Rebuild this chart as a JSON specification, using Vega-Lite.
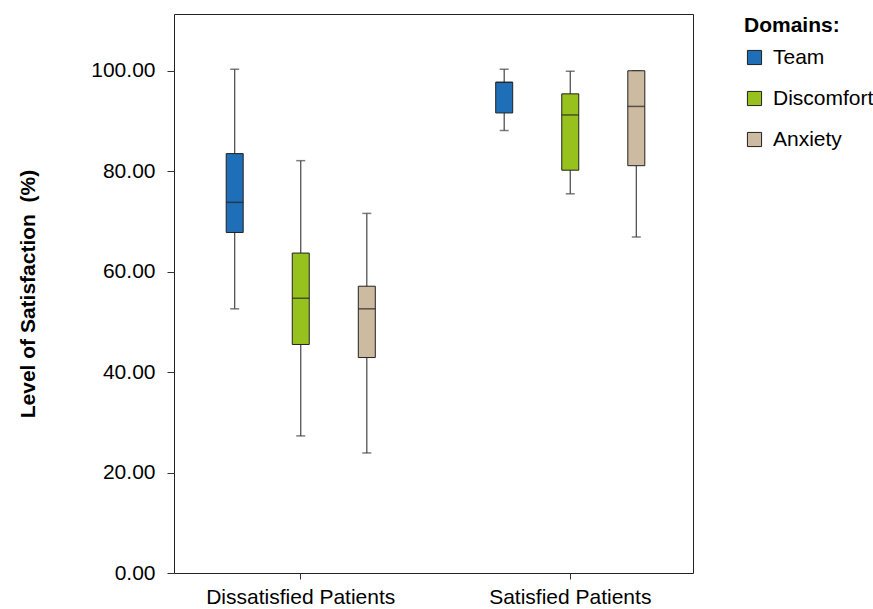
{
  "$schema": "https://vega.github.io/schema/vega-lite/v6.json",
  "autosize": "none",
  "width": 519,
  "height": 559,
  "padding": {"left": 174, "top": 14, "right": 180, "bottom": 36},
  "background": "white",
  "config": {
    "font": "Liberation Sans",
    "view": {"stroke": "#222222", "strokeWidth": 1}
  },
  "data": {
    "values": [
      {"group": "Dissatisfied Patients", "domain": "Team", "min": 52.6, "q1": 67.8, "median": 73.8, "q3": 83.5, "max": 100.3},
      {"group": "Dissatisfied Patients", "domain": "Discomfort", "min": 27.3, "q1": 45.5, "median": 54.7, "q3": 63.7, "max": 82.1},
      {"group": "Dissatisfied Patients", "domain": "Anxiety", "min": 23.9, "q1": 42.9, "median": 52.6, "q3": 57.1, "max": 71.6},
      {"group": "Satisfied Patients", "domain": "Team", "min": 88.1, "q1": 91.6, "median": 97.7, "q3": 97.7, "max": 100.3},
      {"group": "Satisfied Patients", "domain": "Discomfort", "min": 75.5, "q1": 80.2, "median": 91.2, "q3": 95.4, "max": 99.9},
      {"group": "Satisfied Patients", "domain": "Anxiety", "min": 66.9, "q1": 81.1, "median": 92.9, "q3": 100.0, "max": 100.0}
    ]
  },
  "encoding": {
    "x": {
      "field": "group",
      "type": "nominal",
      "sort": ["Dissatisfied Patients", "Satisfied Patients"],
      "scale": {"range": [-8, 531], "paddingInner": 0, "paddingOuter": 0},
      "axis": {
        "title": null,
        "labelAngle": 0,
        "labelFontSize": 21,
        "labelColor": "#000000",
        "labelPadding": 7,
        "labelLimit": 0,
        "labelOverlap": false,
        "tickSize": 6,
        "tickColor": "#333333",
        "domain": false,
        "grid": false
      }
    },
    "xOffset": {
      "field": "domain",
      "type": "nominal",
      "sort": ["Team", "Discomfort", "Anxiety"],
      "scale": {"paddingInner": 0.742, "paddingOuter": 0.911}
    }
  },
  "layer": [
    {
      "mark": {"type": "rule", "color": "#444444", "strokeWidth": 1.2},
      "encoding": {
        "y": {
          "field": "min",
          "type": "quantitative",
          "scale": {"domain": [0, 111.3], "nice": false, "zero": true},
          "axis": {
            "title": "Level of Satisfaction\u00a0 (%)",
            "titleFontSize": 21,
            "titleFontWeight": "bold",
            "titleColor": "#000000",
            "titlePadding": 52,
            "values": [0, 20, 40, 60, 80, 100],
            "format": ".2f",
            "labelFontSize": 21,
            "labelColor": "#000000",
            "labelPadding": 12,
            "tickSize": 7,
            "tickColor": "#333333",
            "domain": false,
            "grid": false
          }
        },
        "y2": {"field": "max"}
      }
    },
    {
      "mark": {"type": "tick", "color": "#444444", "size": 9, "thickness": 1.5},
      "encoding": {"y": {"field": "min", "type": "quantitative"}}
    },
    {
      "mark": {"type": "tick", "color": "#444444", "size": 9, "thickness": 1.5},
      "encoding": {"y": {"field": "max", "type": "quantitative"}}
    },
    {
      "mark": {"type": "bar", "width": 17, "stroke": "#222222", "strokeWidth": 1},
      "encoding": {
        "y": {"field": "q1", "type": "quantitative"},
        "y2": {"field": "q3"},
        "color": {
          "field": "domain",
          "type": "nominal",
          "sort": ["Team", "Discomfort", "Anxiety"],
          "scale": {"domain": ["Team", "Discomfort", "Anxiety"], "range": ["#1F6FB8", "#97C21E", "#CCBBA0"]},
          "legend": {
            "title": "Domains:",
            "orient": "none",
            "legendX": 570,
            "legendY": 1,
            "titleFontSize": 21,
            "titleFontWeight": "bold",
            "titleColor": "#000000",
            "titlePadding": 11,
            "labelFontSize": 21,
            "labelColor": "#000000",
            "labelOffset": 8,
            "labelLimit": 0,
            "symbolType": "square",
            "symbolSize": 200,
            "symbolStrokeColor": "#222222",
            "symbolStrokeWidth": 1,
            "symbolOpacity": 1,
            "rowPadding": 19
          }
        }
      }
    },
    {
      "mark": {"type": "tick", "color": "#222222", "size": 17, "thickness": 1.5},
      "encoding": {"y": {"field": "median", "type": "quantitative"}}
    }
  ]
}
